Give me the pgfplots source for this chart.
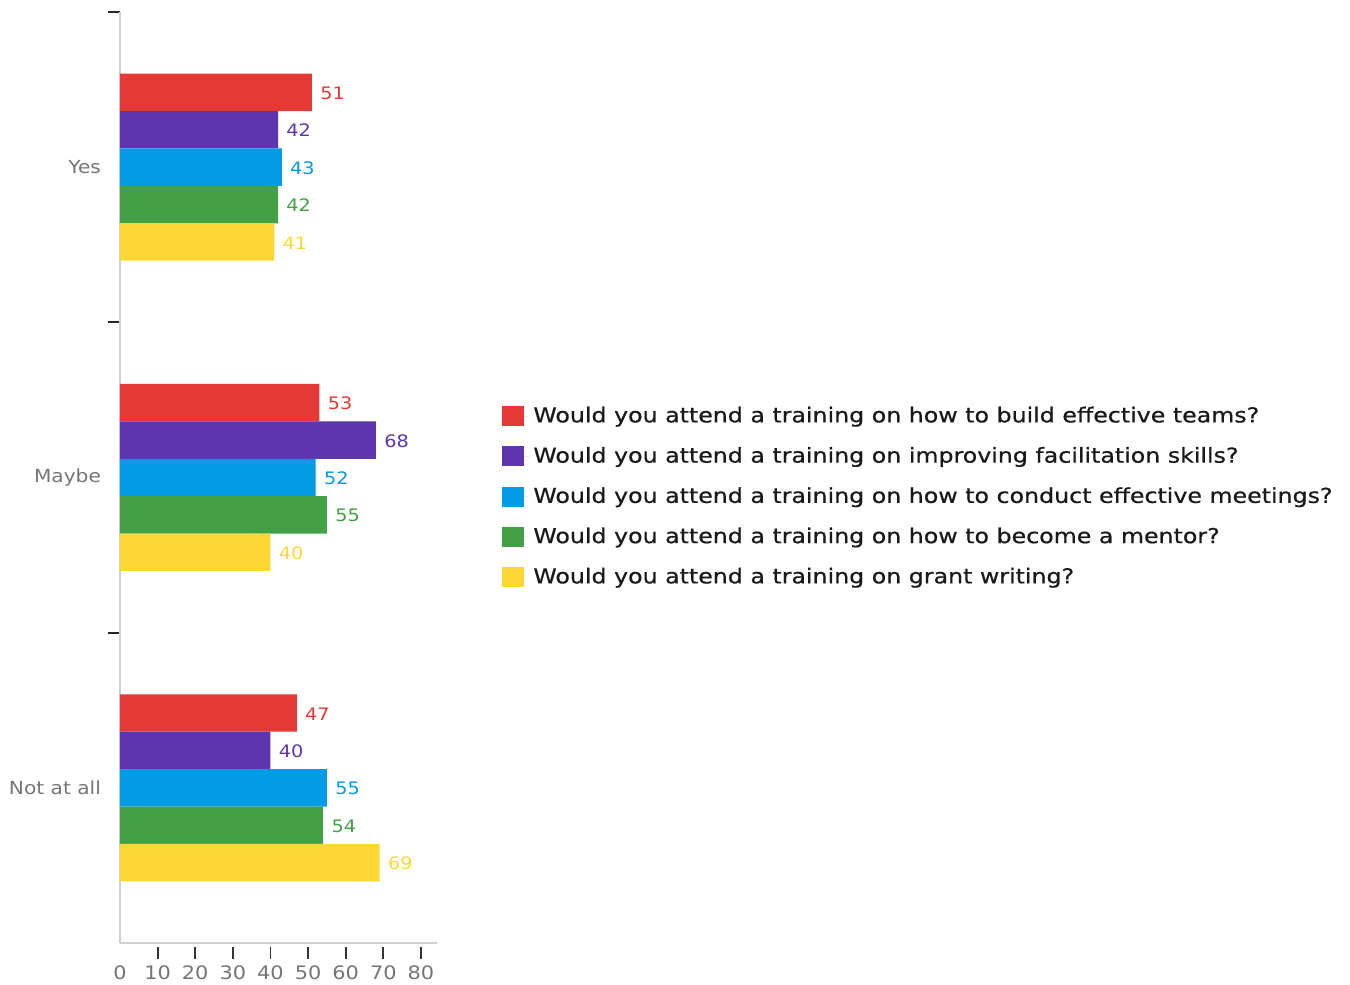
\documentclass[border=0pt]{standalone}
\usepackage{fontspec}
\setmainfont{DejaVu Sans}[FakeStretch=1.12]
\newfontfamily\legfont{DejaVu Sans}[FakeStretch=1.15, FakeBold=0.6]
\usepackage{pgfplots}
\pgfplotsset{compat=1.18}

\definecolor{cred}{HTML}{E53935}
\definecolor{cpurple}{HTML}{5E35B1}
\definecolor{cblue}{HTML}{039BE5}
\definecolor{cgreen}{HTML}{43A047}
\definecolor{cyellow}{HTML}{FDD835}
\definecolor{labgray}{HTML}{757575}
\definecolor{axgray}{HTML}{D0D0D0}

% Category positions: 0 = Not at all, 1 = Maybe, 2 = Yes
\pgfplotstableread{
cat teams facil meetings mentor grant
0   47    40    55       54     69
1   53    68    52       55     40
2   51    42    43       42     41
}\answers

\begin{document}
\begin{tikzpicture}
\begin{axis}[
  name=main,
  scale only axis,
  width=158.5pt, height=465.5pt,
  xbar, bar width=18.7pt,
  xmin=0, xmax=84.25,
  ymin=-0.5, ymax=2.5,
  axis x line*=bottom, axis y line*=left,
  axis line style={draw=axgray, line width=0.75pt, -},
  tick align=outside,
  major tick length=6pt,
  /pgf/number format/assume math mode=true,
  xtick={10,20,...,80},
  xtick style={draw=black!80, line width=0.9pt, yshift=-2pt},
  xticklabel style={font=\fontsize{9.3pt}{11pt}\selectfont, text=labgray, yshift=-2pt},
  extra x ticks={0},
  extra x tick style={xtick style={draw=none}},
  ytick={0.5,1.5,2.5},
  yticklabels={},
  ytick style={draw=black!85, line width=1pt},
  extra y ticks={0,1,2},
  extra y tick labels={Not at all,Maybe,Yes},
  extra y tick style={ytick style={draw=none},
    yticklabel style={font=\fontsize{9pt}{11pt}\selectfont, text=labgray}},
  point meta=x,
  nodes near coords,
  every node near coord/.append style={font=\fontsize{8.6pt}{10pt}\selectfont, inner sep=0pt, anchor=west, xshift=4pt, yshift=-0.4pt},
  legend style={draw=none, fill=none, inner sep=0pt, at={(1.205,0.4795)}, anchor=west,
    font=\legfont\fontsize{10.3pt}{12pt}\selectfont, text=black!90,
    row sep=6.8pt},
  legend cell align=left,
  legend image code/.code={\fill[#1] (0pt,-5pt) rectangle (11pt,5pt); \path (0pt,0pt) -- (13.5pt,0pt);},
]
\addplot[fill=cred, draw=none, bar shift=37.4pt, every node near coord/.append style={text=cred}]
  table[x=teams, y=cat] {\answers};
\addplot[fill=cpurple, draw=none, bar shift=18.7pt, every node near coord/.append style={text=cpurple}]
  table[x=facil, y=cat] {\answers};
\addplot[fill=cblue, draw=none, bar shift=0pt, every node near coord/.append style={text=cblue}]
  table[x=meetings, y=cat] {\answers};
\addplot[fill=cgreen, draw=none, bar shift=-18.7pt, every node near coord/.append style={text=cgreen}]
  table[x=mentor, y=cat] {\answers};
\addplot[fill=cyellow, draw=none, bar shift=-37.4pt, every node near coord/.append style={text=cyellow}]
  table[x=grant, y=cat] {\answers};
\legend{Would you attend a training on how to build effective teams?,
        Would you attend a training on improving facilitation skills?,
        Would you attend a training on how to conduct effective meetings?,
        Would you attend a training on how to become a mentor?,
        Would you attend a training on grant writing?}
\end{axis}
\pgfresetboundingbox
\path (main.south west) ++(-60pt,-21pt) rectangle ++(675pt,492.5pt);
\end{tikzpicture}
\end{document}
